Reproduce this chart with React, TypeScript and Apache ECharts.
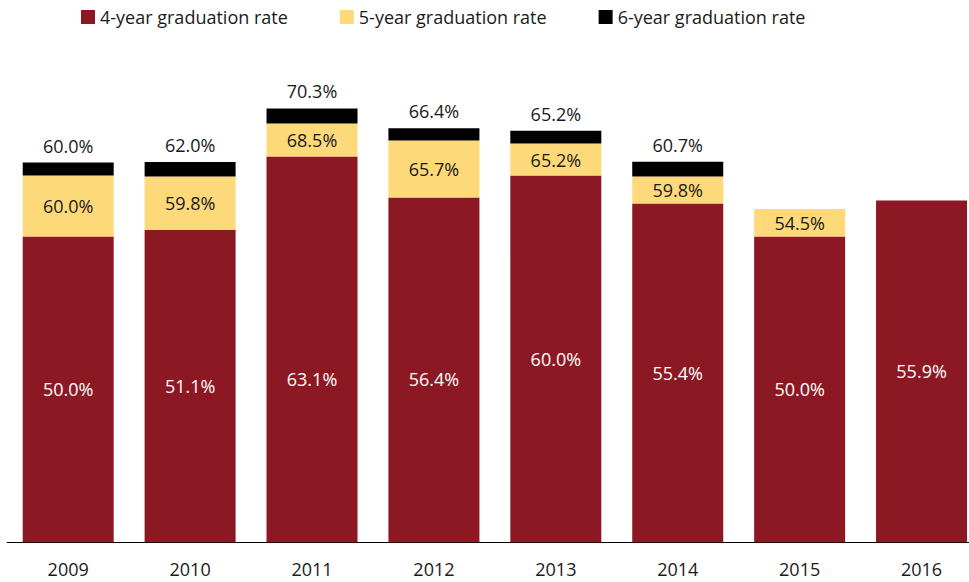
import React, { useEffect, useRef } from "react";
import * as echarts from "echarts";

const years = ["2009", "2010", "2011", "2012", "2013", "2014", "2015", "2016"];
const fourYear: (number | null)[] = [50.0, 51.1, 63.1, 56.4, 60.0, 55.4, 50.0, 55.9];
const fiveYear: (number | null)[] = [60.0, 59.8, 68.5, 65.7, 65.2, 59.8, 54.5, null];
const sixYear: (number | null)[] = [60.0, 62.0, 70.3, 66.4, 65.2, 60.7, null, null];
// visible height of the black 6-year cap
const sixYearCap: (number | null)[] = [2.1, 2.4, 2.45, 2.0, 2.1, 2.45, null, null];

const seriesNames = ["4-year graduation rate", "5-year graduation rate", "6-year graduation rate"];
const colors = ["#8C1823", "#FDD97A", "#000000"];

// style: vertical nudge of a few in-bar labels, as placed in the reference
const fourYearLabelNudge = [0, 0, 30, 9, 0, 0, 0, 0];

const FONT = "'Open Sans', 'Noto Sans', sans-serif";

export default function App() {
  const ref = useRef<HTMLDivElement>(null);

  useEffect(() => {
    if (!ref.current) return;
    const chart = echarts.init(ref.current, undefined, { renderer: "svg" });

    const fiveSeg = fiveYear.map((v, i) =>
      v == null || fourYear[i] == null ? "-" : +(v - (fourYear[i] as number)).toFixed(2)
    );
    const capSeg = sixYearCap.map((v) => (v == null ? "-" : v));
    const fourData = fourYear.map((v, i) => ({
      value: v,
      label: { offset: [0, fourYearLabelNudge[i]] },
    }));

    const pct = (v: number | null) => (v == null ? "" : v.toFixed(1) + "%");

    chart.setOption({
      animation: false,
      textStyle: { fontFamily: FONT },
      color: colors,
      legend: {
        data: seriesNames,
        left: 76,
        top: 3,
        itemWidth: 14,
        itemHeight: 14,
        itemGap: 52,
        icon: "rect",
        textStyle: { fontFamily: FONT, fontSize: 18, color: "#1a1a1a" },
      },
      grid: { left: 7.25, width: 975.25, top: 53.1, bottom: 39.7, containLabel: false },
      xAxis: {
        type: "category",
        data: years,
        axisLine: { show: true, lineStyle: { color: "#000", width: 1 } },
        axisTick: { show: false },
        axisLabel: { fontFamily: FONT, fontSize: 18, color: "#1a1a1a", margin: 17.5 },
      },
      yAxis: {
        type: "value",
        min: 0,
        max: 80,
        show: false,
        splitLine: { show: false },
      },
      series: [
        {
          name: seriesNames[0],
          type: "bar",
          stack: "rate",
          barWidth: 91,
          data: fourData,
          itemStyle: { color: colors[0] },
          label: {
            show: true,
            position: "inside",
            color: "#fff",
            fontFamily: FONT,
            fontSize: 18,
            formatter: (p: any) => pct(fourYear[p.dataIndex]),
          },
        },
        {
          name: seriesNames[1],
          type: "bar",
          stack: "rate",
          barWidth: 91,
          data: fiveSeg,
          itemStyle: { color: colors[1] },
          label: {
            show: true,
            position: "inside",
            color: "#1a1a1a",
            fontFamily: FONT,
            fontSize: 18,
            formatter: (p: any) => pct(fiveYear[p.dataIndex]),
          },
        },
        {
          name: seriesNames[2],
          type: "bar",
          stack: "rate",
          barWidth: 91,
          data: capSeg,
          itemStyle: { color: colors[2] },
          label: {
            show: true,
            position: "top",
            distance: 8,
            color: "#1a1a1a",
            fontFamily: FONT,
            fontSize: 18,
            formatter: (p: any) => pct(sixYear[p.dataIndex]),
          },
        },
      ],
    });

    return () => chart.dispose();
  }, []);

  return (
    <div
      style={{
        position: "fixed",
        left: 0,
        top: 0,
        width: 969,
        height: 582,
        overflow: "hidden",
        background: "#fff",
      }}
    >
      <div ref={ref} style={{ width: 990, height: 582 }} />
    </div>
  );
}
